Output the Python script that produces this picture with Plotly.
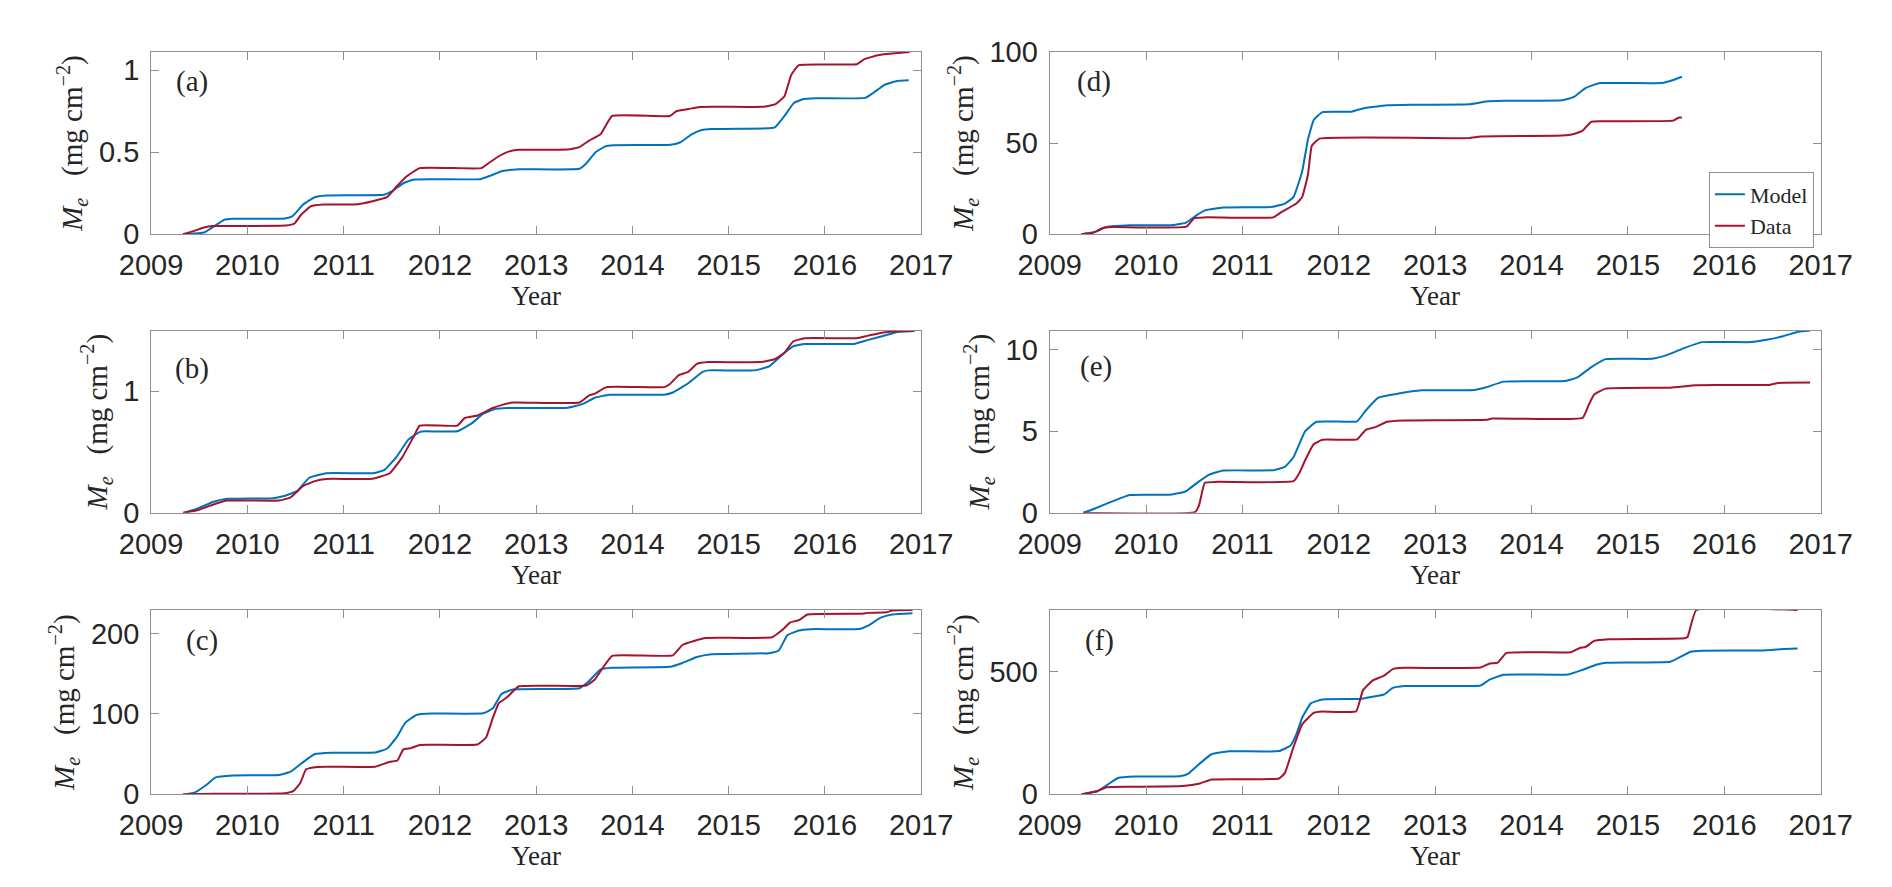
import plotly.graph_objects as go

# ---------------- data ----------------
years = [2009, 2010, 2011, 2012, 2013, 2014, 2015, 2016, 2017]
year_labels = [str(y) for y in years]
panel_labels = ["(a)", "(b)", "(c)", "(d)", "(e)", "(f)"]
series_names = ["Model", "Data"]

a_model_t = [2009.36, 2009.55, 2009.66, 2009.76, 2009.85, 2010.39, 2010.47, 2010.58, 2010.70, 2010.82, 2011.42, 2011.50, 2011.62, 2011.73, 2012.42, 2012.52, 2012.65, 2012.82, 2013.45, 2013.52, 2013.62, 2013.72, 2013.80, 2014.40, 2014.50, 2014.62, 2014.72, 2014.82, 2015.42, 2015.48, 2015.58, 2015.68, 2015.78, 2015.90, 2016.42, 2016.50, 2016.62, 2016.75, 2016.87]
a_model_v = [0.0, 0.01, 0.05, 0.088, 0.094, 0.095, 0.11, 0.18, 0.225, 0.235, 0.24, 0.26, 0.31, 0.333, 0.335, 0.355, 0.385, 0.395, 0.398, 0.43, 0.50, 0.535, 0.542, 0.545, 0.56, 0.61, 0.635, 0.641, 0.645, 0.65, 0.72, 0.80, 0.823, 0.828, 0.83, 0.86, 0.91, 0.933, 0.937]
a_data_t = [2009.33, 2009.45, 2009.55, 2009.64, 2010.40, 2010.49, 2010.56, 2010.66, 2010.79, 2011.15, 2011.30, 2011.45, 2011.55, 2011.65, 2011.79, 2012.43, 2012.50, 2012.60, 2012.70, 2012.82, 2013.33, 2013.45, 2013.55, 2013.67, 2013.79, 2014.39, 2014.46, 2014.58, 2014.70, 2015.36, 2015.48, 2015.58, 2015.65, 2015.73, 2016.33, 2016.41, 2016.55, 2016.70, 2016.88]
a_data_v = [0.0, 0.02, 0.04, 0.049, 0.052, 0.065, 0.12, 0.17, 0.18, 0.182, 0.20, 0.225, 0.29, 0.35, 0.402, 0.402, 0.43, 0.47, 0.50, 0.514, 0.515, 0.53, 0.57, 0.608, 0.72, 0.72, 0.75, 0.762, 0.775, 0.776, 0.79, 0.84, 0.97, 1.03, 1.035, 1.066, 1.09, 1.10, 1.11]

b_model_t = [2009.35, 2009.50, 2009.65, 2009.79, 2010.27, 2010.39, 2010.52, 2010.64, 2010.82, 2011.30, 2011.42, 2011.55, 2011.67, 2011.79, 2011.85, 2012.18, 2012.33, 2012.45, 2012.58, 2012.70, 2013.33, 2013.48, 2013.61, 2013.76, 2014.33, 2014.42, 2014.58, 2014.73, 2014.79, 2015.27, 2015.42, 2015.58, 2015.67, 2015.79, 2016.30, 2016.45, 2016.64, 2016.76, 2016.93]
b_model_v = [0.0, 0.04, 0.09, 0.114, 0.12, 0.14, 0.18, 0.286, 0.325, 0.325, 0.35, 0.46, 0.60, 0.664, 0.67, 0.67, 0.735, 0.815, 0.855, 0.862, 0.865, 0.894, 0.947, 0.971, 0.972, 0.99, 1.066, 1.159, 1.172, 1.172, 1.204, 1.317, 1.37, 1.389, 1.39, 1.423, 1.463, 1.49, 1.497]
b_data_t = [2009.33, 2009.48, 2009.67, 2009.79, 2010.33, 2010.45, 2010.58, 2010.70, 2010.82, 2011.30, 2011.48, 2011.61, 2011.73, 2011.79, 2012.18, 2012.26, 2012.39, 2012.55, 2012.64, 2012.76, 2013.45, 2013.55, 2013.61, 2013.73, 2014.33, 2014.39, 2014.48, 2014.58, 2014.67, 2014.79, 2015.33, 2015.48, 2015.58, 2015.67, 2015.79, 2016.33, 2016.45, 2016.61, 2016.76, 2016.93]
b_data_v = [0.0, 0.02, 0.074, 0.10, 0.10, 0.127, 0.22, 0.26, 0.278, 0.28, 0.325, 0.458, 0.63, 0.717, 0.717, 0.78, 0.80, 0.862, 0.886, 0.907, 0.907, 0.966, 0.98, 1.034, 1.034, 1.06, 1.132, 1.16, 1.225, 1.24, 1.24, 1.265, 1.317, 1.41, 1.437, 1.437, 1.458, 1.484, 1.495, 1.497]

c_model_t = [2009.36, 2009.45, 2009.58, 2009.67, 2009.85, 2010.33, 2010.45, 2010.58, 2010.70, 2010.88, 2011.33, 2011.45, 2011.55, 2011.64, 2011.76, 2011.91, 2012.45, 2012.55, 2012.64, 2012.76, 2013.45, 2013.55, 2013.67, 2013.79, 2014.39, 2014.52, 2014.67, 2014.82, 2015.42, 2015.52, 2015.61, 2015.73, 2015.85, 2016.36, 2016.45, 2016.58, 2016.70, 2016.91]
c_model_v = [0.0, 2.0, 12.0, 21.0, 23.4, 24.0, 28.0, 40.0, 50.0, 51.7, 52.0, 56.6, 70.7, 88.9, 99.0, 100.6, 100.8, 107.0, 125.0, 130.5, 132.0, 141.0, 155.6, 157.6, 158.8, 163.6, 171.0, 174.5, 175.8, 179.0, 198.0, 204.0, 205.7, 206.0, 210.0, 220.0, 224.0, 225.5]
c_data_t = [2009.33, 2009.67, 2010.39, 2010.48, 2010.55, 2010.61, 2010.73, 2011.33, 2011.48, 2011.56, 2011.62, 2011.70, 2011.79, 2012.39, 2012.48, 2012.55, 2012.61, 2012.70, 2012.82, 2013.52, 2013.61, 2013.70, 2013.79, 2014.42, 2014.52, 2014.64, 2014.76, 2015.45, 2015.55, 2015.64, 2015.73, 2015.82, 2016.39, 2016.45, 2016.64, 2016.70, 2016.91]
c_data_v = [0.0, 0.4, 1.2, 4.0, 14.0, 31.0, 34.0, 34.3, 40.4, 42.0, 55.8, 57.4, 61.4, 62.0, 70.7, 95.0, 113.0, 121.0, 134.5, 135.4, 143.0, 158.8, 172.5, 173.0, 186.0, 191.0, 194.7, 195.6, 204.0, 214.0, 217.0, 224.0, 225.0, 226.0, 226.7, 229.0, 229.5]

d_model_t = [2009.33, 2009.47, 2009.59, 2009.83, 2010.25, 2010.41, 2010.53, 2010.62, 2010.80, 2011.32, 2011.44, 2011.53, 2011.62, 2011.68, 2011.74, 2011.83, 2012.13, 2012.25, 2012.50, 2012.74, 2013.35, 2013.53, 2013.71, 2014.32, 2014.44, 2014.56, 2014.71, 2015.35, 2015.47, 2015.56]
d_model_v = [0.0, 1.2, 3.9, 4.9, 4.9, 6.2, 10.6, 13.2, 14.6, 15.0, 16.8, 20.3, 34.4, 52.0, 62.6, 67.0, 67.2, 69.0, 70.7, 71.0, 71.3, 72.8, 73.2, 73.5, 75.3, 80.2, 82.9, 82.9, 84.6, 86.4]
d_data_t = [2009.33, 2009.44, 2009.56, 2009.65, 2010.42, 2010.50, 2010.62, 2011.32, 2011.41, 2011.56, 2011.62, 2011.68, 2011.72, 2011.80, 2013.35, 2013.47, 2014.32, 2014.44, 2014.53, 2014.62, 2014.71, 2015.47, 2015.53, 2015.56]
d_data_v = [0.0, 0.5, 3.5, 3.9, 4.1, 8.8, 9.2, 9.2, 12.3, 16.8, 20.3, 32.6, 48.5, 52.4, 52.7, 53.6, 54.1, 55.0, 56.8, 61.7, 62.0, 62.3, 64.0, 64.0]

e_model_t = [2009.35, 2009.47, 2009.65, 2009.83, 2010.25, 2010.41, 2010.53, 2010.65, 2010.80, 2011.32, 2011.44, 2011.53, 2011.65, 2011.77, 2012.19, 2012.28, 2012.41, 2012.62, 2012.86, 2013.41, 2013.53, 2013.71, 2014.35, 2014.47, 2014.62, 2014.77, 2015.25, 2015.41, 2015.59, 2015.77, 2016.28, 2016.44, 2016.62, 2016.77, 2016.89]
e_model_v = [0.0, 0.26, 0.69, 1.08, 1.1, 1.3, 1.83, 2.32, 2.58, 2.6, 2.81, 3.4, 4.98, 5.57, 5.6, 6.26, 7.05, 7.3, 7.5, 7.52, 7.68, 8.03, 8.07, 8.27, 8.92, 9.41, 9.43, 9.67, 10.1, 10.45, 10.45, 10.59, 10.83, 11.08, 11.16]
e_data_t = [2009.35, 2010.51, 2010.55, 2010.61, 2010.74, 2011.53, 2011.59, 2011.65, 2011.74, 2011.83, 2012.19, 2012.28, 2012.38, 2012.50, 2012.68, 2013.53, 2013.59, 2014.53, 2014.59, 2014.65, 2014.77, 2015.44, 2015.71, 2016.47, 2016.56, 2016.89]
e_data_v = [0.0, 0.04, 0.45, 1.83, 1.89, 1.93, 2.42, 3.2, 4.19, 4.47, 4.49, 5.08, 5.24, 5.57, 5.65, 5.69, 5.77, 5.81, 6.56, 7.24, 7.6, 7.66, 7.81, 7.83, 7.95, 7.97]

f_model_t = [2009.35, 2009.50, 2009.59, 2009.71, 2009.89, 2010.35, 2010.44, 2010.56, 2010.68, 2010.86, 2011.38, 2011.50, 2011.56, 2011.62, 2011.71, 2011.83, 2012.22, 2012.35, 2012.47, 2012.56, 2012.68, 2013.47, 2013.56, 2013.71, 2014.38, 2014.53, 2014.68, 2014.77, 2015.44, 2015.56, 2015.65, 2015.77, 2016.38, 2016.62, 2016.76]
f_model_v = [0, 13, 36, 66, 72, 73, 84, 126, 163, 175, 176, 199, 245, 312, 371, 387, 389, 398, 407, 434, 442, 444, 467, 488, 489, 508, 530, 537, 541, 564, 582, 586, 587, 593, 595]
f_data_t = [2009.33, 2009.50, 2009.59, 2009.83, 2010.38, 2010.56, 2010.68, 2011.38, 2011.44, 2011.53, 2011.62, 2011.74, 2011.83, 2012.18, 2012.25, 2012.35, 2012.47, 2012.56, 2012.68, 2013.47, 2013.56, 2013.65, 2013.74, 2014.41, 2014.50, 2014.56, 2014.65, 2014.80, 2015.59, 2015.62, 2015.71, 2016.76]
f_data_v = [0, 13, 28, 30, 33, 44, 60, 64, 86, 192, 285, 332, 338, 338, 424, 464, 484, 511, 516, 517, 533, 537, 577, 580, 597, 601, 626, 633, 637, 643, 752, 752]

y_ranges = [[0, 1.11], [0, 1.5], [0, 229.5], [0, 100], [0, 11.16], [0, 752]]
y_ticks = [[0, 0.5, 1], [0, 1], [0, 100, 200], [0, 50, 100], [0, 5, 10], [0, 500]]
y_ticktext = [["0", "0.5", "1"], ["0", "1"], ["0", "100", "200"], ["0", "50", "100"], ["0", "5", "10"], ["0", "500"]]

panels = [
    (a_model_t, a_model_v, a_data_t, a_data_v),
    (b_model_t, b_model_v, b_data_t, b_data_v),
    (c_model_t, c_model_v, c_data_t, c_data_v),
    (d_model_t, d_model_v, d_data_t, d_data_v),
    (e_model_t, e_model_v, e_data_t, e_data_v),
    (f_model_t, f_model_v, f_data_t, f_data_v),
]

# ---------------- styling / layout ----------------
W, H = 1892, 887
BLUE = "#0072BD"
RED = "#A2142F"
AX = "#8f8f8f"
TXT = "#262626"
SERIF = "Liberation Serif, Times New Roman, serif"
SANS = "Liberation Sans, Arial, Helvetica, sans-serif"

col_px = [(115, 912), (1045, 1843)]
row_px = [(29, 218), (318, 507), (608, 799)]
label_pos = [(0.053, 0.836), (0.053, 0.794), (0.066, 0.832), (0.058, 0.84), (0.06, 0.80), (0.065, 0.836)]

fig = go.Figure()
layout = dict(
    width=W, height=H, margin=dict(l=0, r=0, t=0, b=0),
    paper_bgcolor="white", plot_bgcolor="white",
    showlegend=True,
    legend=dict(x=1836 / W, y=1 - 154 / H, xanchor="right", yanchor="top",
                bgcolor="white", bordercolor=AX, borderwidth=1,
                font=dict(family=SERIF, size=22, color=TXT),
                itemwidth=30, tracegroupgap=0),
)
annotations = []
ytitle = "<i>M</i><sub><i>e</i></sub>\u00a0\u00a0\u00a0(mg\u00a0cm<sup>\u22122</sup>)"

for i, (mt, mv, dt, dv) in enumerate(panels):
    col = i // 3
    row = i % 3
    n = i + 1
    xa = "x" if n == 1 else f"x{n}"
    ya = "y" if n == 1 else f"y{n}"
    fig.add_trace(go.Scatter(x=mt, y=mv, mode="lines", name=series_names[0],
                             line=dict(color=BLUE, width=2, shape="spline", smoothing=0.35),
                             xaxis=xa, yaxis=ya, showlegend=(n == 4)))
    fig.add_trace(go.Scatter(x=dt, y=dv, mode="lines", name=series_names[1],
                             line=dict(color=RED, width=2, shape="spline", smoothing=0.35),
                             xaxis=xa, yaxis=ya, showlegend=(n == 4)))
    x0, x1 = col_px[col]
    yt, yb = row_px[row]
    common = dict(showline=True, linecolor=AX, linewidth=1, mirror="ticks",
                  ticks="inside", ticklen=8, tickwidth=1, tickcolor=AX,
                  showgrid=False, zeroline=False,
                  tickfont=dict(family=SANS, size=29, color=TXT))
    layout["xaxis" if n == 1 else f"xaxis{n}"] = dict(
        common, domain=[x0 / W, x1 / W], range=[2009, 2017],
        tickvals=years, ticktext=year_labels, anchor=ya,
        ticklabelstandoff=5,
        title=dict(text="Year", font=dict(family=SERIF, size=27, color=TXT), standoff=3),
    )
    layout["yaxis" if n == 1 else f"yaxis{n}"] = dict(
        common, domain=[1 - yb / H, 1 - yt / H], range=y_ranges[i],
        tickvals=y_ticks[i], ticktext=y_ticktext[i], anchor=xa,
        ticklabelstandoff=5,
        title=dict(text=ytitle, font=dict(family=SERIF, size=29, color=TXT), standoff=7),
    )
    lx, ly = label_pos[i]
    annotations.append(dict(text=panel_labels[i], xref=f"{xa} domain", yref=f"{ya} domain",
                            x=lx, y=ly, xanchor="center", yanchor="middle", showarrow=False,
                            font=dict(family=SERIF, size=29, color=TXT)))

layout["annotations"] = annotations
fig.update_layout(**layout)
fig.write_html("out.html")
